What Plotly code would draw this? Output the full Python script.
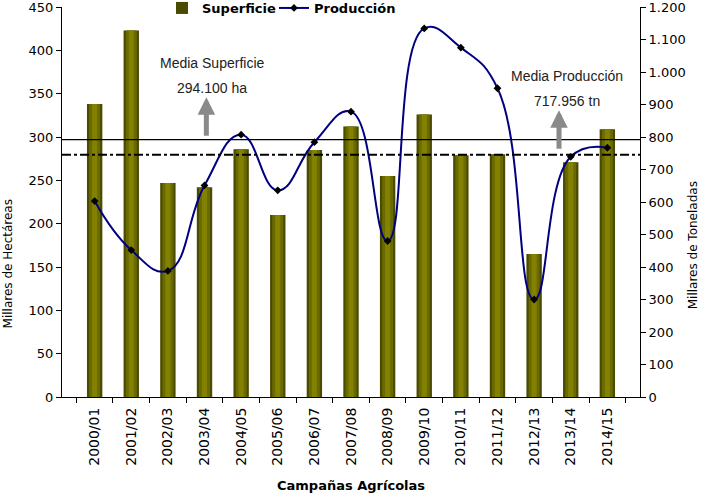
import plotly.graph_objects as go

# campañas agrícolas
campanas = ['2000/01', '2001/02', '2002/03', '2003/04', '2004/05', '2005/06', '2006/07', '2007/08',
            '2008/09', '2009/10', '2010/11', '2011/12', '2012/13', '2013/14', '2014/15']
# superficie (miles de ha)
superficie = [338, 423, 247, 242, 286, 210, 285, 312, 255, 326, 279, 280, 165, 271, 309]
# produccion (miles de t)
produccion = [603, 452, 388, 651, 807, 636, 784, 878, 480, 1134, 1075, 950, 300, 739, 767]

# lineas de media (eje izquierdo)
linea_media_sup = 297
linea_media_prod = 279.5

font = 'DejaVu Sans'

fig = go.Figure()

# barras con sombreado tipo cilindro (3 capas)
fig.add_trace(go.Bar(x=campanas, y=superficie, name='Superficie', width=0.42,
                     marker=dict(color='#4a4a00', line=dict(width=0))))
fig.add_trace(go.Bar(x=campanas, y=superficie, width=0.3, showlegend=False, hoverinfo='skip',
                     marker=dict(color='#6a6a00', line=dict(width=0))))
fig.add_trace(go.Bar(x=campanas, y=superficie, width=0.14, showlegend=False, hoverinfo='skip',
                     marker=dict(color='#828200', line=dict(width=0))))

# produccion
fig.add_trace(go.Scatter(x=campanas, y=produccion, name='Producción', yaxis='y2', legend='legend2',
                         mode='lines+markers', line=dict(color='#000080', width=2, shape='spline', smoothing=1.3),
                         marker=dict(symbol='diamond', size=6, color='black')))

# lineas de media
fig.add_shape(type='line', xref='paper', yref='y', x0=0, x1=1, y0=linea_media_sup, y1=linea_media_sup,
              line=dict(color='black', width=1.2))
fig.add_shape(type='line', xref='paper', yref='y', x0=0, x1=1, y0=linea_media_prod, y1=linea_media_prod,
              line=dict(color='black', width=2, dash='dashdot'))

# flechas
fig.add_annotation(x=3.05, y=346, ax=0, ay=40, showarrow=True, text='', arrowcolor='#8a8a8a',
                   arrowwidth=5, arrowhead=2, arrowsize=0.7)
fig.add_annotation(x=12.68, y=331, ax=0, ay=40, showarrow=True, text='', arrowcolor='#8a8a8a',
                   arrowwidth=5, arrowhead=2, arrowsize=0.7)

# textos
txt = dict(family='Liberation Sans', size=14, color='#222222')
fig.add_annotation(x=3.21, y=385, text='Media Superficie', showarrow=False, font=txt)
fig.add_annotation(x=3.21, y=356, text='294.100 ha', showarrow=False, font=txt)
fig.add_annotation(x=12.89, y=370, text='Media Producción', showarrow=False, font=txt)
fig.add_annotation(x=12.89, y=341, text='717.956 tn', showarrow=False, font=txt)

# titulos de ejes
tit = dict(xref='paper', yref='paper', showarrow=False, xanchor='center', yanchor='middle')
fig.add_annotation(x=-0.0934, y=0.34, text='Millares de Hectáreas', textangle=-90,
                   font=dict(family=font, size=12), **tit)
fig.add_annotation(x=1.0917, y=0.389, text='Millares de Toneladas', textangle=-90,
                   font=dict(family=font, size=12), **tit)
fig.add_annotation(x=0.5, y=-0.2263, text='Campañas Agrícolas',
                   font=dict(family=font, size=13, weight='bold'), **tit)

leg = dict(orientation='h', xref='container', yref='container', y=1 - 8 / 496,
           xanchor='left', yanchor='middle',
           font=dict(family=font, size=13, color='black', weight='bold'),
           bgcolor='rgba(255,255,255,0)')

fig.update_layout(
    width=701, height=496,
    margin=dict(l=62, r=61, t=7, b=99, autoexpand=False),
    paper_bgcolor='white', plot_bgcolor='white',
    barmode='overlay',
    separators=',.',
    font=dict(family=font, size=13, color='black'),
    showlegend=True,
    legend=dict(x=162 / 701, **leg),
    legend2=dict(x=274 / 701, **leg),
    xaxis=dict(type='category', tickangle=-90, showline=True, linecolor='black', linewidth=1,
               ticks='outside', ticklen=5, tickcolor='black', tickson='boundaries',
               tickfont=dict(size=14), ticklabelstandoff=4, showgrid=False, automargin=False),
    yaxis=dict(range=[0, 450], dtick=50, showline=True, linecolor='black', linewidth=1,
               ticks='outside', ticklen=5, tickcolor='black', showgrid=False, zeroline=False,
               automargin=False, ticklabeloverflow='allow'),
    yaxis2=dict(range=[0, 1200], dtick=100, tickformat=',d', overlaying='y', side='right', showline=True,
                linecolor='black', linewidth=1, ticks='outside', ticklen=5, tickcolor='black',
                showgrid=False, zeroline=False, automargin=False, ticklabeloverflow='allow'),
)

fig.write_html('out.html', config={'displayModeBar': False},
               post_script="document.body.style.margin='0px';")
